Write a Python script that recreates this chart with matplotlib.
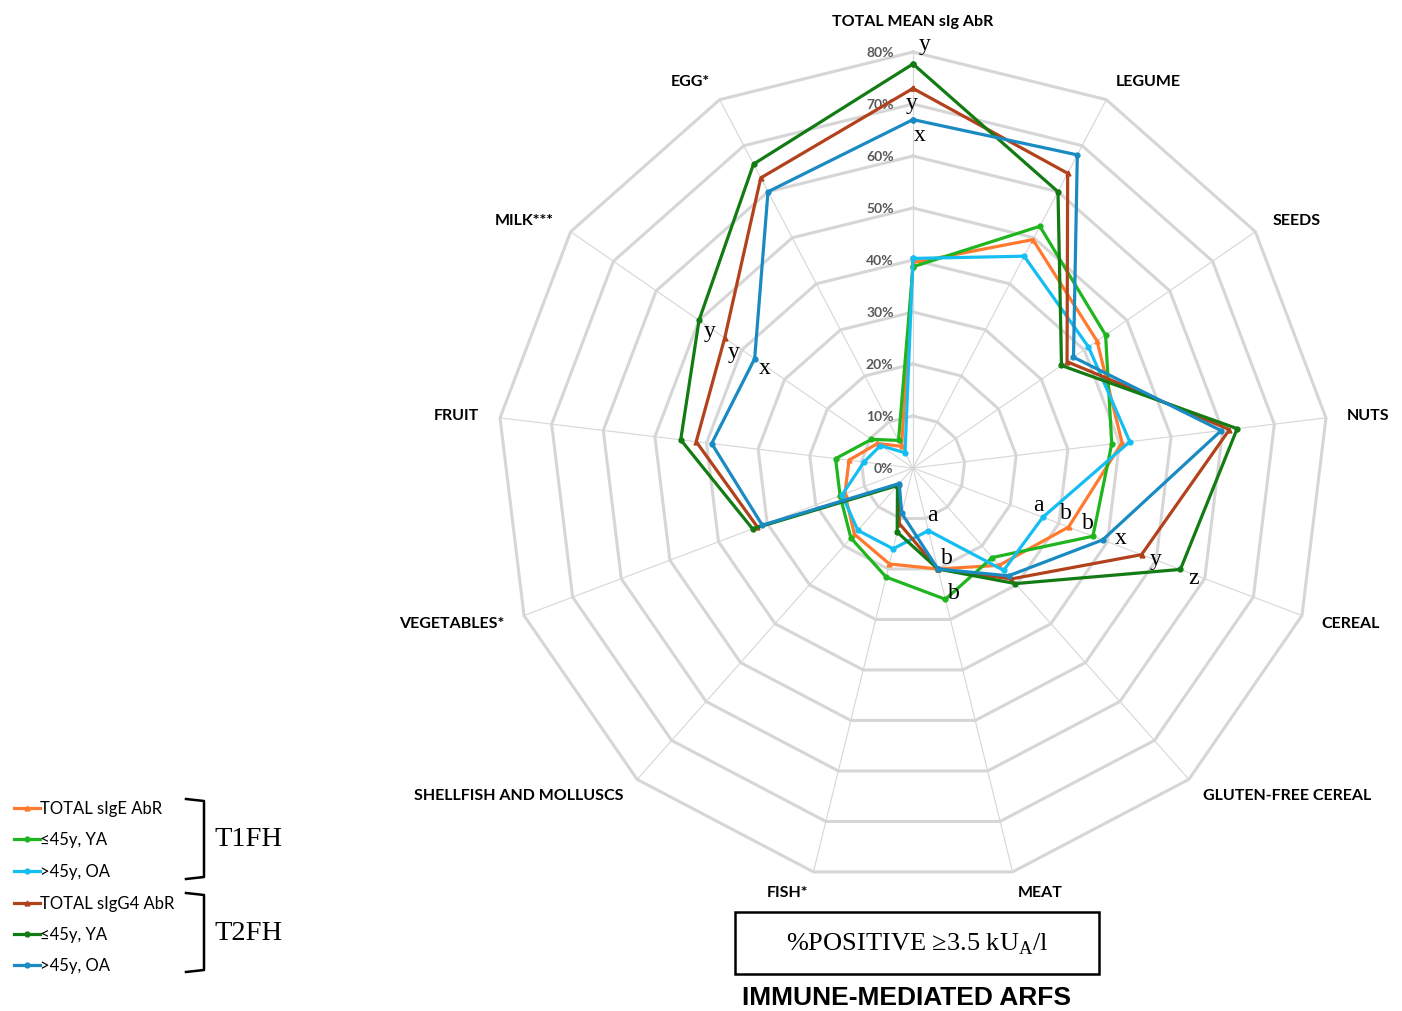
import numpy as np
import matplotlib
matplotlib.use("Agg")
import matplotlib.pyplot as plt
from matplotlib.patches import Rectangle

categories = ["TOTAL MEAN sIg AbR", "LEGUME", "SEEDS", "NUTS", "CEREAL",
              "GLUTEN-FREE CEREAL", "MEAT", "FISH*", "SHELLFISH AND MOLLUSCS",
              "VEGETABLES*", "FRUIT", "MILK***", "EGG*"]
rings = [0, 10, 20, 30, 40, 50, 60, 70, 80]

# % positive >= 3.5 kUA/l, T1FH (sIgE)
total_sige = [39.5, 49.6, 43.0, 40.5, 32.0, 25.0, 20.0, 19.0, 17.0, 14.0, 12.4, 8.3, 4.7]
sige_ya = [38.7, 52.5, 45.0, 38.5, 37.0, 23.0, 26.0, 21.6, 18.0, 15.0, 15.0, 9.7, 6.0]
sige_oa = [40.3, 46.0, 41.0, 42.0, 26.7, 26.3, 12.4, 16.0, 16.0, 14.6, 9.5, 7.6, 3.3]
# T2FH (sIgG4)
total_sigg4 = [73.0, 64.0, 36.0, 61.3, 47.0, 28.5, 20.0, 11.0, 4.2, 32.0, 42.0, 44.0, 63.0]
sigg4_ya = [77.7, 60.0, 34.7, 62.8, 55.0, 29.7, 20.0, 12.7, 4.5, 33.0, 45.0, 50.0, 66.0]
sigg4_oa = [67.0, 68.0, 37.5, 59.7, 39.0, 27.7, 20.0, 9.0, 4.0, 31.0, 39.0, 37.0, 60.0]

series = [total_sige, sige_ya, sige_oa, total_sigg4, sigg4_ya, sigg4_oa]
labels = ["TOTAL sIgE AbR", "≤45y, YA", ">45y, OA",
          "TOTAL sIgG4 AbR", "≤45y, YA", ">45y, OA"]
colors = ["#FF7A2F", "#1FB51F", "#14BEF2", "#B2421B", "#137B13", "#1A8BC2"]
markers = ["^", "o", "o", "^", "o", "o"]

# significance letters: (series index, category index, letter)
letters = [(4, 0, "y"), (3, 0, "y"), (5, 0, "x"),
           (4, 11, "y"), (3, 11, "y"), (5, 11, "x"),
           (2, 4, "a"), (0, 4, "b"), (1, 4, "b"),
           (5, 4, "x"), (3, 4, "y"), (4, 4, "z"),
           (2, 6, "a"), (0, 6, "b"), (1, 6, "b")]
letter_offsets = [(8.6, 14.4), (-0.7, -10), (5, -10.8),
                  (8, -7), (6.5, -10), (7, -6.5),
                  (-3, 9.4), (-2, 10.8), (-3.6, 10),
                  (13, 1.4), (10, -3), (9.4, -5.8),
                  (3, 11.5), (6.5, 8.6), (6.5, 5)]

sans = ["Lato", "DejaVu Sans"]
serif = ["Liberation Serif", "DejaVu Serif"]
grid_col = "#d6d6d6"

fig = plt.figure(figsize=(14.02, 10.12), dpi=100)
ax = fig.add_axes([497 / 1402, 127 / 1012, 832 / 1402, 832 / 1012], projection="polar")
ax.set_theta_zero_location("N")
ax.set_theta_direction(-1)
ax.set_ylim(0, 80)
ax.axis("off")

n = len(categories)
theta = np.arange(n) * 2 * np.pi / n
closed = np.append(theta, theta[0])

# polygon web
for r in rings[1:]:
    ax.plot(closed, [r] * (n + 1), color=grid_col, lw=2.2, zorder=1, clip_on=False)
for th in theta:
    ax.plot([th, th], [0, rings[-1]], color=grid_col, lw=0.8, zorder=1, clip_on=False)

for r in rings:
    ax.annotate(f"{r}%", xy=(0, r), xytext=(-14, 0), textcoords="offset points",
                ha="right", va="center", fontsize=10, fontweight="bold",
                color="#595959", family=sans, zorder=2)

for th, name in zip(theta, categories):
    s = np.sin(th)
    if abs(s) < 0.05:
        ax.text(th, 86, name, ha="center", va="center", fontsize=11.5,
                fontweight="bold", family=sans)
    else:
        ax.text(th, 84, name, ha="left" if s > 0 else "right", va="center",
                fontsize=11.5, fontweight="bold", family=sans)

for vals, c, m in zip(series, colors, markers):
    ax.plot(closed, vals + [vals[0]], color=c, lw=2.3, marker=m, ms=3.5,
            zorder=3, clip_on=False)

for (si, ci, txt), off in zip(letters, letter_offsets):
    ax.annotate(txt, xy=(theta[ci], series[si][ci]), xytext=off,
                textcoords="offset points", ha="center", va="center",
                fontsize=17, family=serif, zorder=4)

# legend with the two bracketed groups
lg = fig.add_axes([0, 12 / 1012, 300 / 1402, 220 / 1012])
lg.set_xlim(0, 300)
lg.set_ylim(1000, 780)
lg.axis("off")
rows = [809, 840, 872, 904, 935, 966]
for y, lab, c, m in zip(rows, labels, colors, markers):
    lg.plot([14, 40], [y, y], color=c, lw=2.3)
    lg.plot([27], [y], marker=m, color=c, ms=3.5)
    lg.text(40, y, lab, ha="left", va="center", fontsize=12, family=sans)
for top, bot, name in [(800, 880, "T1FH"), (894, 973, "T2FH")]:
    lg.plot([186, 204, 204, 186], [top, top + 2, bot - 2, bot], color="black", lw=1.8)
    lg.text(214, (top + bot) / 2, name, ha="left", va="center", fontsize=20.5, family=serif)

fig.add_artist(Rectangle((735 / 1402, 37 / 1012), 364 / 1402, 62 / 1012,
                         transform=fig.transFigure, fill=False, ec="black", lw=1.8))
fig.text(917 / 1402, 68 / 1012, "%POSITIVE ≥3.5 kU$_{\\mathregular{A}}$/l",
         ha="center", va="center", fontsize=19, family=serif)
fig.text(907 / 1402, 14 / 1012, "IMMUNE-MEDIATED ARFS", ha="center", va="center",
         fontsize=19, fontweight="bold", family=["Liberation Sans", "DejaVu Sans"])

fig.savefig("out.png", dpi=100, facecolor="white")
